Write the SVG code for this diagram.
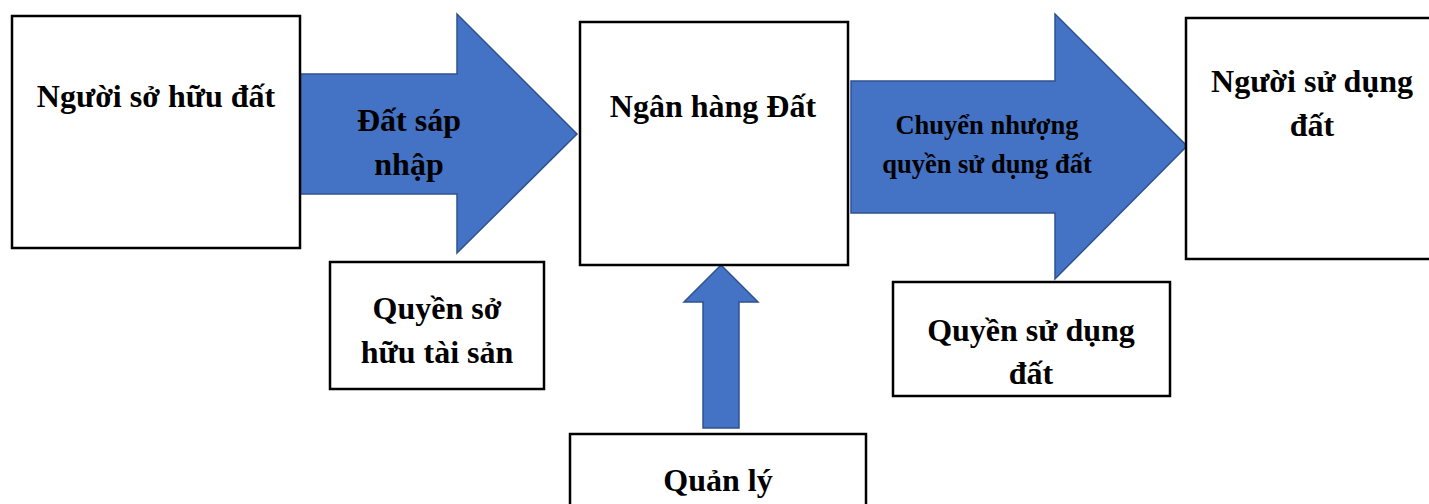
<svg xmlns="http://www.w3.org/2000/svg" width="1429" height="504" viewBox="0 0 1429 504">
  <style>
    .box { fill: #ffffff; stroke: #000000; stroke-width: 2.5; }
    .arrow { fill: #4472C4; stroke: #2F528F; stroke-width: 1.5; stroke-linejoin: miter; }
    .lbl { font-family: "Liberation Serif", "Times New Roman", serif; font-weight: bold; fill: #000000; text-anchor: middle; }
    .big { font-size: 32px; }
    .small { font-size: 26.5px; }
  </style>
  <rect width="1429" height="504" fill="#ffffff"/>

  <!-- block arrows -->
  <g id="connectors">
    <polygon class="arrow" points="300,74 457,74 457,14 577,134 457,253 457,194 300,194"/>
    <polygon class="arrow" points="851,81 1055,81 1055,14 1187,146 1055,279 1055,213 851,213"/>
    <polygon class="arrow" points="703,428 703,302 684,302 721,265 758,302 739,302 739,428"/>
  </g>

  <g id="nguoi-so-huu">
    <rect class="box" x="12" y="16" width="288" height="232"/>
    <text class="lbl big" x="156" y="107">Người sở hữu đất</text>
  </g>

  <g id="label-dat-sap-nhap">
    <text class="lbl big" x="409" y="131">Đất sáp</text>
    <text class="lbl big" x="409" y="175">nhập</text>
  </g>

  <g id="ngan-hang-dat">
    <rect class="box" x="580" y="22" width="268" height="243"/>
    <text class="lbl big" x="713" y="117">Ngân hàng Đất</text>
  </g>

  <g id="label-chuyen-nhuong">
    <text class="lbl small" x="987" y="134">Chuyển nhượng</text>
    <text class="lbl small" x="987" y="173">quyền sử dụng đất</text>
  </g>

  <g id="nguoi-su-dung">
    <rect class="box" x="1186" y="18" width="245" height="241"/>
    <text class="lbl big" x="1312" y="92">Người sử dụng</text>
    <text class="lbl big" x="1312" y="136">đất</text>
  </g>

  <g id="quyen-so-huu">
    <rect class="box" x="330" y="262" width="214" height="127"/>
    <text class="lbl big" x="437" y="319">Quyền sở</text>
    <text class="lbl big" x="437" y="363">hữu tài sản</text>
  </g>

  <g id="quan-ly">
    <rect class="box" x="570" y="434" width="296" height="80"/>
    <text class="lbl big" x="718" y="491">Quản lý</text>
  </g>

  <g id="quyen-su-dung">
    <rect class="box" x="893" y="282" width="277" height="114"/>
    <text class="lbl big" x="1031" y="341">Quyền sử dụng</text>
    <text class="lbl big" x="1031" y="384">đất</text>
  </g>
</svg>
